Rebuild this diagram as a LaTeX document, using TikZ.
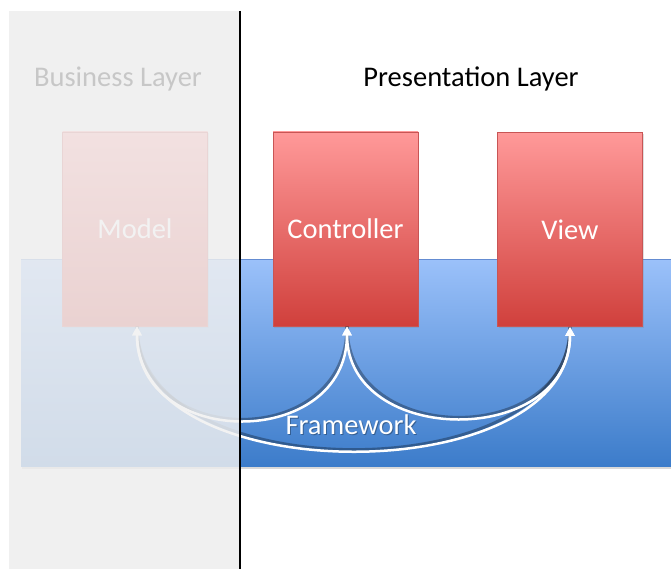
\documentclass[tikz,border=0pt]{standalone}
\usepackage{fontspec}
\setmainfont{Carlito}
\usetikzlibrary{arrows.meta,shadows}

\definecolor{panelgray}{RGB}{240,240,240}
\definecolor{bandtop}{RGB}{155,193,250}
\definecolor{bandbottom}{RGB}{60,124,202}
\definecolor{bandedge}{RGB}{100,140,210}
\definecolor{boxtop}{RGB}{255,153,153}
\definecolor{boxbottom}{RGB}{208,64,60}
\definecolor{boxedge}{RGB}{200,85,85}

\tikzset{
  labeltext/.style={font=\fontsize{28.5}{34}\selectfont, inner sep=0pt},
  mvcbox/.style={draw=boxedge, line width=0.8pt, top color=boxtop, bottom color=boxbottom,
    minimum width=145pt, minimum height=194pt, inner sep=0pt,
    font=\fontsize{28.5}{34}\selectfont, text=white,
    drop shadow={shadow xshift=1pt, shadow yshift=-1.5pt, opacity=0.25}},
  flow/.style={white, line width=2.5pt, {Triangle[width=9pt,length=9pt]}-{Triangle[width=9pt,length=9pt]}},
  flowshadow/.style={black, opacity=0.3, line width=3pt, xshift=0.8pt, yshift=-1pt},
}

\begin{document}
\begin{tikzpicture}[x=1pt,y=-1pt]
  \useasboundingbox (0,0) rectangle (671,569);

  % business layer panel
  \fill[panelgray] (9,11) rectangle (240,569);

  % framework band
  \fill[black, opacity=0.15] (22,466) rectangle (671,469);
  \shade[top color=bandtop, bottom color=bandbottom] (21,259) rectangle (671,466);
  \draw[bandedge, line width=0.8pt] (21,259) -- (671,259);

  % layer titles
  \node[labeltext, text=black] (business) at (118,79) {Business Layer};
  \node[labeltext, text=black] (presentation) at (471,79) {Presentation Layer};

  % MVC boxes
  \node[mvcbox] (model) at (135,229) {Model};
  \node[mvcbox] (controller) at (345.5,229) {Controller};
  \node[mvcbox] (view) at (570,229.5) {View};

  % anchors for the curved links
  \coordinate (mtip) at ([xshift=2pt]model.south);
  \coordinate (ctip) at ([xshift=1.5pt]controller.south);
  \coordinate (vtip) at (view.south);

  % curved links (shadow, then white stroke)
  \foreach \k/\a/\b in {124/mtip/ctip, 121/ctip/vtip, 164/mtip/vtip}{
    \draw[flowshadow] (\a) .. controls +(0,\k) and +(0,\k) .. (\b);
  }
  \draw[flow] (mtip) .. controls +(0,124) and +(0,124) .. (ctip);
  \draw[flow] (ctip) .. controls +(0,121) and +(0,121) .. (vtip);
  \draw[flow] (mtip) .. controls +(0,164) and +(0,164) .. (vtip);

  % band label
  \node[labeltext, text=black, opacity=0.3] at (352,426) {Framework};
  \node[labeltext, text=white] (framework) at (351,425) {Framework};

  % fade over the business layer
  \fill[panelgray, opacity=0.83] (9,11) rectangle (239,569);

  % layer divider
  \draw[black, line width=2pt] (239.5,11) -- (239.5,569);
\end{tikzpicture}
\end{document}
